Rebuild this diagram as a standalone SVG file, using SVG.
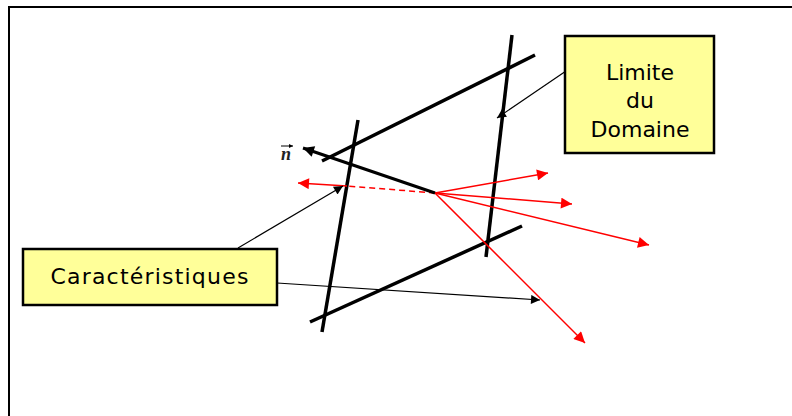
<svg xmlns="http://www.w3.org/2000/svg" width="792" height="416" viewBox="0 0 792 416">
<style>
.box{fill:#ffff99;stroke:#000;stroke-width:2.5}
.lbl{font-family:"Comic Sans MS","DejaVu Sans",sans-serif;font-size:22px;fill:#000;text-anchor:middle}
.thick{stroke:#000;stroke-width:3.5;fill:none;stroke-linecap:butt}
.thin{stroke:#000;stroke-width:1.2;fill:none}
.red{stroke:#f00;stroke-width:1.5;fill:none}
</style>
<defs>
<marker id="ab" viewBox="0 0 10 10" refX="10" refY="5" markerWidth="12" markerHeight="9" markerUnits="userSpaceOnUse" orient="auto"><path d="M0,0L10,5L0,10z" fill="#000"/></marker>
<marker id="abk" viewBox="0 0 10 10" refX="10" refY="5" markerWidth="14" markerHeight="11" markerUnits="userSpaceOnUse" orient="auto"><path d="M0,0L10,5L0,10z" fill="#000"/></marker>
<marker id="ar" viewBox="0 0 10 10" refX="10" refY="5" markerWidth="14" markerHeight="11" markerUnits="userSpaceOnUse" orient="auto"><path d="M0,0L10,5L0,10z" fill="#f00"/></marker>
<marker id="tiny" viewBox="0 0 10 10" refX="10" refY="5" markerWidth="4" markerHeight="4" markerUnits="userSpaceOnUse" orient="auto"><path d="M0,0L10,5L0,10z" fill="#000"/></marker>
</defs>
<rect x="9" y="7" width="800" height="420" fill="#fff" stroke="#000" stroke-width="2"/>
<g id="connectors">
<line class="thick" x1="358" y1="120" x2="322" y2="332"/>
<line class="thick" x1="322" y1="161" x2="535" y2="55"/>
<line class="thick" x1="512" y1="35" x2="486" y2="257"/>
<line class="thick" x1="310" y1="322" x2="522" y2="226"/>
<line class="red" x1="435" y1="193" x2="347" y2="186" stroke-dasharray="6,4"/>
<line class="red" x1="347" y1="186" x2="298" y2="183" marker-end="url(#ar)"/>
<line class="red" x1="435" y1="193" x2="548" y2="173" marker-end="url(#ar)"/>
<line class="red" x1="435" y1="193" x2="572" y2="204" marker-end="url(#ar)"/>
<line class="red" x1="435" y1="193" x2="649" y2="245" marker-end="url(#ar)"/>
<line class="red" x1="435" y1="193" x2="585" y2="343" marker-end="url(#ar)"/>
<line x1="435" y1="193" x2="303" y2="148" stroke="#000" stroke-width="3" marker-end="url(#abk)"/>
<line class="thin" x1="238" y1="248" x2="343" y2="186" marker-end="url(#ab)"/>
<line class="thin" x1="277" y1="283" x2="540" y2="300" marker-end="url(#ab)"/>
<line class="thin" x1="566" y1="71" x2="497" y2="118" marker-end="url(#ab)"/>
</g>
<g id="n-label">
<text x="286" y="160" font-family="'Liberation Serif',serif" font-style="italic" font-weight="bold" font-size="18" text-anchor="middle" fill="#222">n</text>
<line x1="281" y1="146" x2="293" y2="146" stroke="#000" stroke-width="1" marker-end="url(#tiny)"/>
</g>
<g id="limite">
<rect class="box" x="565" y="36" width="149" height="117"/>
<text class="lbl" x="640" y="80">Limite</text>
<text class="lbl" x="640" y="108">du</text>
<text class="lbl" x="640" y="137">Domaine</text>
</g>
<g id="caracteristiques">
<rect class="box" x="23" y="249" width="254" height="56"/>
<text class="lbl" x="150" y="284" letter-spacing="1.2">Caractéristiques</text>
</g>
</svg>
